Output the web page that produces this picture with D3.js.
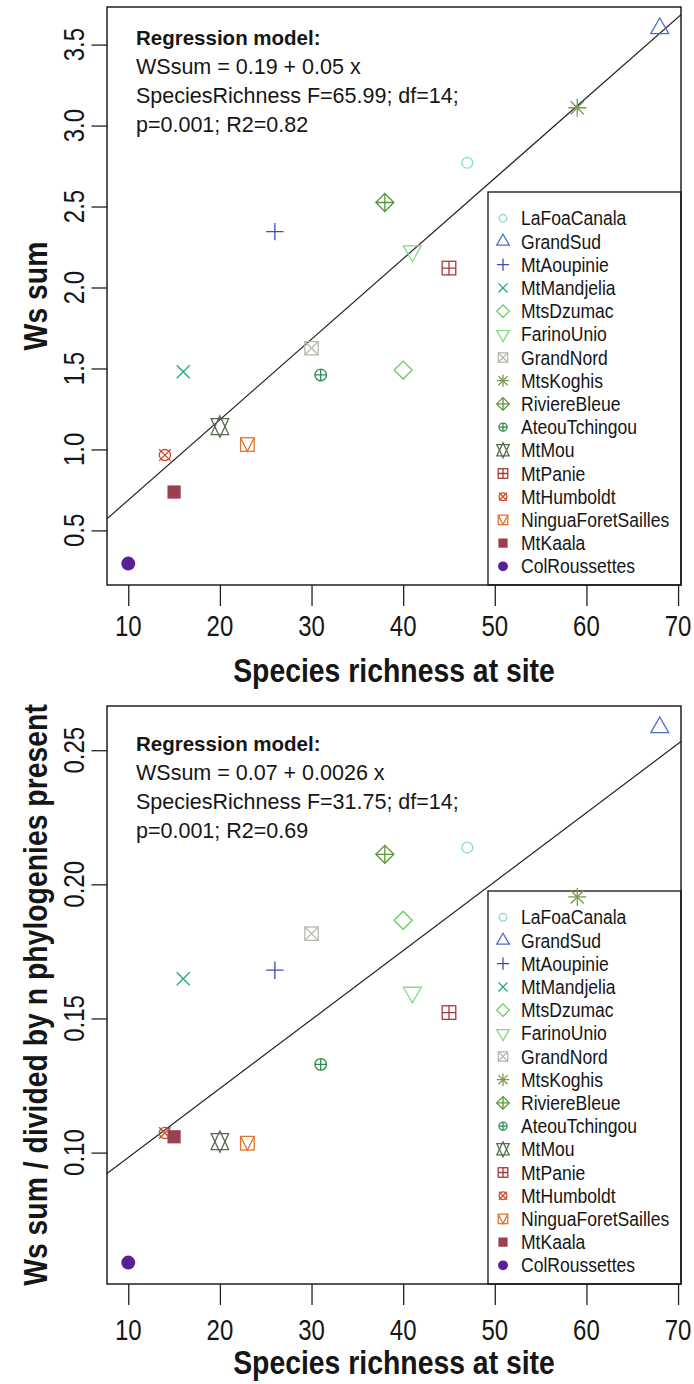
<!DOCTYPE html>
<html>
<head>
<meta charset="utf-8">
<script src="https://cdn.jsdelivr.net/npm/d3@7"></script>
<style>
  body { margin: 0; background: #fff; }
  svg { display: block; }
  text { font-family: "Liberation Sans", Arial, Helvetica, sans-serif; fill: #161616; }
</style>
</head>
<body>
<script>
// sites, in legend order
var sites = ["LaFoaCanala", "GrandSud", "MtAoupinie", "MtMandjelia", "MtsDzumac", "FarinoUnio",
  "GrandNord", "MtsKoghis", "RiviereBleue", "AteouTchingou", "MtMou", "MtPanie", "MtHumboldt",
  "NinguaForetSailles", "MtKaala", "ColRoussettes"];
var richness = [47, 68, 26, 16, 40, 41, 30, 59, 38, 31, 20, 45, 14, 23, 15, 10];
var wsSum = [2.77, 3.60, 2.345, 1.48, 1.49, 2.225, 1.625, 3.11, 2.525, 1.46, 1.141, 2.12, 0.965, 1.03, 0.737, 0.295];
var wsPerPhylo = [0.2137, 0.2585, 0.1680, 0.1648, 0.1866, 0.1597, 0.1816, 0.1953, 0.2112, 0.1329,
  0.1041, 0.1522, 0.1073, 0.1035, 0.1059, 0.0590];
var siteColors = ["#86dcd6", "#4a70c4", "#3c4db3", "#1fa683", "#64cc5a", "#84d98a", "#b7baac", "#7b9a4f",
  "#5a9638", "#2e8e50", "#566c50", "#a23a3a", "#cb4d2c", "#e07530", "#9a4050", "#5a1e98"];
var siteShapes = ["circle", "triUp", "plus", "cross", "diamond", "triDown", "squareX", "asterisk",
  "diamondPlus", "circlePlus", "star", "squarePlus", "circleX", "squareV", "squareFill", "circleFill"];

var xTicks = [10, 20, 30, 40, 50, 60, 70];
var yTicksTop = [0.5, 1.0, 1.5, 2.0, 2.5, 3.0, 3.5];
var yTicksBottom = [0.10, 0.15, 0.20, 0.25];

// regression fits (intercept, slope)
var fitTop = [0.19, 0.0497];
var fitBottom = [0.0725, 0.00257];

var notesTop = ["Regression model:", "WSsum = 0.19 + 0.05 x", "SpeciesRichness F=65.99; df=14;", "p=0.001; R2=0.82"];
var notesBottom = ["Regression model:", "WSsum = 0.07 + 0.0026 x", "SpeciesRichness F=31.75; df=14;", "p=0.001; R2=0.69"];

var xTitle = "Species richness at site";
var yTitleTop = "Ws sum";
var yTitleBottom = "Ws sum / divided by n phylogenies present";

var svg_width = 694;
var svg_height = 1384;

var svg = d3.select('body')
  .append('svg')
  .attr('width', svg_width)
  .attr('height', svg_height);

// plot box left/right shared by both panels
var box_left = 107;
var box_right = 681;

// R style 4% padding on the data range
function padded(values) {
  var e = d3.extent(values);
  var p = (e[1] - e[0]) * 0.04;
  return [e[0] - p, e[1] + p];
}

var x = d3.scaleLinear().domain(padded(richness)).range([box_left, box_right]);

// text helper, sx squeezes the glyphs along the reading direction (narrow font look)
function label(px, py, str, size, opts) {
  opts = opts || {};
  var tr = 'translate(' + px + ',' + py + ')';
  if (opts.rotate) tr += ' rotate(' + opts.rotate + ')';
  tr += ' scale(' + (opts.sx || 1) + ',1)';
  svg.append('g')
    .attr('transform', tr)
    .append('text')
    .attr('text-anchor', opts.anchor || 'start')
    .attr('font-size', size)
    .attr('font-weight', opts.bold ? 'bold' : 'normal')
    .text(str);
}

function drawSymbol(g, shape, k, color) {
  var lw = 1.3;
  function stroke(sel) { return sel.attr('fill', 'none').attr('stroke', color).attr('stroke-width', lw); }
  function path(d) { stroke(g.append('path').attr('d', d)); }
  function circ(r) { stroke(g.append('circle').attr('r', r)); }
  function sq(h) { stroke(g.append('rect').attr('x', -h).attr('y', -h).attr('width', 2 * h).attr('height', 2 * h)); }
  function plus(h) { path('M' + (-h) + ',0H' + h + 'M0,' + (-h) + 'V' + h); }
  function cross(h) { path('M' + (-h) + ',' + (-h) + 'L' + h + ',' + h + 'M' + (-h) + ',' + h + 'L' + h + ',' + (-h)); }
  function diamond(h) { path('M' + (-h) + ',0L0,' + (-h) + 'L' + h + ',0L0,' + h + 'Z'); }
  function tri(r, yb, xc, dir) { // dir 1 = apex up
    path('M0,' + (-dir * r) + 'L' + xc + ',' + (dir * yb) + 'L' + (-xc) + ',' + (dir * yb) + 'Z');
  }
  switch (shape) {
    case 'circle': circ(5.4 * k); break;
    case 'triUp': tri(10.4 * k, 5.2 * k, 9 * k, 1); break;
    case 'plus': plus(8.7 * k); break;
    case 'cross': cross(6.5 * k); break;
    case 'diamond': diamond(9 * k); break;
    case 'triDown': tri(10.4 * k, 5.2 * k, 9 * k, -1); break;
    case 'squareX': sq(6.7 * k); cross(6.7 * k); break;
    case 'asterisk': cross(6.5 * k); plus(9 * k); break;
    case 'diamondPlus': diamond(9 * k); plus(9 * k); break;
    case 'circlePlus': circ(5.8 * k); plus(5.8 * k); break;
    case 'star':
      tri(10.7 * k, 8 * k, 8.8 * k, 1);
      tri(10.7 * k, 8 * k, 8.8 * k, -1);
      break;
    case 'squarePlus': sq(6.8 * k); plus(6.8 * k); break;
    case 'circleX': circ(5.6 * k); cross(5.8 * k); break;
    case 'squareV':
      sq(6.8 * k);
      path('M' + (-6.8 * k) + ',' + (-6.8 * k) + 'L0,' + (6.8 * k) + 'L' + (6.8 * k) + ',' + (-6.8 * k));
      break;
    case 'squareFill':
      g.append('rect').attr('x', -6.6 * k).attr('y', -6.6 * k).attr('width', 13.2 * k).attr('height', 13.2 * k)
        .attr('fill', color);
      break;
    case 'circleFill':
      g.append('circle').attr('r', 7 * k).attr('fill', color);
      break;
  }
}

function drawPanel(p) {
  var y = d3.scaleLinear().domain(padded(p.values)).range([p.bottom, p.top]);

  var clipId = 'clip' + p.id;
  svg.append('clipPath').attr('id', clipId)
    .append('rect')
    .attr('x', box_left).attr('y', p.top)
    .attr('width', box_right - box_left).attr('height', p.bottom - p.top);

  // regression line
  var dom = x.domain();
  svg.append('line')
    .attr('clip-path', 'url(#' + clipId + ')')
    .attr('x1', x(dom[0])).attr('y1', y(p.fit[0] + p.fit[1] * dom[0]))
    .attr('x2', x(dom[1])).attr('y2', y(p.fit[0] + p.fit[1] * dom[1]))
    .attr('stroke', '#222')
    .attr('stroke-width', 1.2);

  // box
  svg.append('rect')
    .attr('x', box_left).attr('y', p.top)
    .attr('width', box_right - box_left).attr('height', p.bottom - p.top)
    .attr('fill', 'none')
    .attr('stroke', '#111')
    .attr('stroke-width', 1.4);

  // x axis
  var xAxis = svg.append('g')
    .attr('transform', 'translate(0,' + p.bottom + ')')
    .call(d3.axisBottom(x).tickValues(xTicks).tickSize(21).tickFormat(''));
  xAxis.select('.domain').remove();
  xAxis.selectAll('line').attr('stroke', '#222').attr('stroke-width', 1.3);
  xTicks.forEach(function(t) {
    label(x(t), p.xLabelBase, t, 30, { anchor: 'middle', sx: 0.8 });
  });
  label((box_left + box_right) / 2, p.xTitleBase, xTitle, 33, { anchor: 'middle', bold: true, sx: 0.86 });

  // y axis
  var yAxis = svg.append('g')
    .attr('transform', 'translate(' + box_left + ',0)')
    .call(d3.axisLeft(y).tickValues(p.ticks).tickSize(15.5).tickFormat(''));
  yAxis.select('.domain').remove();
  yAxis.selectAll('line').attr('stroke', '#222').attr('stroke-width', 1.3);
  p.ticks.forEach(function(t) {
    label(84, y(t), p.fmt(t), 30, { anchor: 'middle', rotate: -90, sx: 0.8 });
  });
  label(47, (p.top + p.bottom) / 2, p.yTitle, 33, { anchor: 'middle', rotate: -90, bold: true, sx: 0.86 });

  // regression note
  p.notes.forEach(function(n, i) {
    label(136, p.noteBase + i * 29, n, i === 0 ? 20.5 : 21.5, { bold: i === 0 });
  });

  // legend (bottom right)
  var legTop = p.bottom - 393;
  svg.append('rect')
    .attr('x', 488).attr('y', legTop)
    .attr('width', box_right - 488).attr('height', p.bottom - legTop)
    .attr('fill', 'none')
    .attr('stroke', '#111')
    .attr('stroke-width', 1.3);
  sites.forEach(function(s, i) {
    var cy = legTop + 26.3 + i * 23.2;
    var g = svg.append('g').attr('transform', 'translate(503,' + cy + ')');
    drawSymbol(g, siteShapes[i], 0.7, siteColors[i]);
    label(521, cy + 7, s, 19.5, { sx: 0.9 });
  });

  // points
  sites.forEach(function(s, i) {
    var g = svg.append('g')
      .attr('transform', 'translate(' + x(richness[i]) + ',' + y(p.values[i]) + ')');
    drawSymbol(g, siteShapes[i], 1, siteColors[i]);
  });
}

drawPanel({
  id: 'top', values: wsSum, top: 7, bottom: 585, ticks: yTicksTop, fmt: d3.format('.1f'),
  fit: fitTop, notes: notesTop, noteBase: 45, yTitle: yTitleTop, xLabelBase: 636, xTitleBase: 682
});

drawPanel({
  id: 'bottom', values: wsPerPhylo, top: 706, bottom: 1284, ticks: yTicksBottom, fmt: d3.format('.2f'),
  fit: fitBottom, notes: notesBottom, noteBase: 751, yTitle: yTitleBottom, xLabelBase: 1340, xTitleBase: 1374
});
</script>
</body>
</html>
